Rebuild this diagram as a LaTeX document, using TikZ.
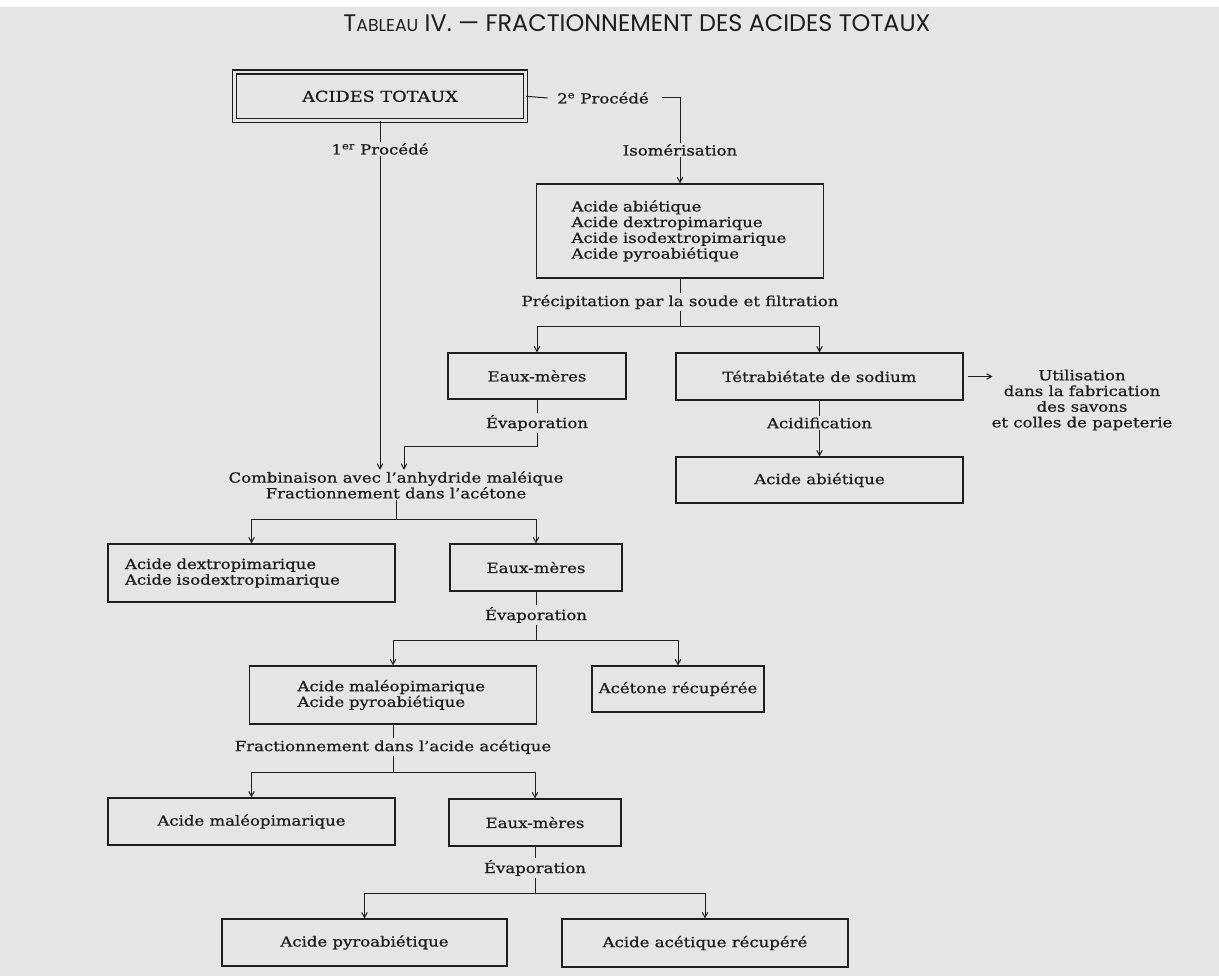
\documentclass[tikz,border=0pt]{standalone}
\usepackage{fontspec}
\setmainfont{DejaVu Serif}[FakeStretch=1.18, FakeBold=0.8]
\newfontfamily\titlefont{Poppins}
\usetikzlibrary{arrows.meta}
\definecolor{bg}{RGB}{229,229,229}
\definecolor{ink}{RGB}{30,30,30}
\newcommand\bodyfs{\fontsize{14}{15.7}\selectfont}
\begin{document}
\begin{tikzpicture}[x=1pt,y=-1pt,
  box/.style={draw=ink, line width=1.2pt, inner sep=0pt, text=ink, font=\bodyfs},
  lbl/.style={inner sep=1.5pt, text=ink, font=\bodyfs},
  conn/.style={draw=ink, line width=1pt},
  arr/.style={conn, -{Straight Barb[length=5pt,width=5.5pt]}}]
\fill[bg] (0,0) rectangle (1219,976);
\fill[white] (0,0) rectangle (1219,7);
\useasboundingbox (0,0) rectangle (1219,976);

% title
\node[font=\titlefont\fontsize{23.9}{24}\selectfont, text=ink, inner sep=0pt] (title) at (637,23)
  {T{\fontsize{17.3}{17.3}\selectfont ABLEAU} IV. — FRACTIONNEMENT DES ACIDES TOTAUX};

% boxes
\node[box, double=bg, double distance=2.8pt, minimum width=291, minimum height=48.5,
  font=\fontsize{15}{16}\selectfont] (tot) at (380,96.3) {ACIDES TOTAUX};
\node[box, minimum width=287, minimum height=94, align=left, text width=217, inner xsep=35] (boxA) at (680,231)
  {Acide abiétique\\Acide dextropimarique\\Acide isodextropimarique\\Acide pyroabiétique};
\node[box, minimum width=178, minimum height=46] (em1) at (537,376) {Eaux-mères};
\node[box, minimum width=287, minimum height=47] (tetra) at (819.5,376.5) {Tétrabiétate de sodium};
\node[box, minimum width=287, minimum height=46] (abiet) at (819.5,480) {Acide abiétique};
\node[box, minimum width=287, minimum height=58, align=left, text width=253, inner xsep=17] (dextro) at (251.5,573)
  {Acide dextropimarique\\Acide isodextropimarique};
\node[box, minimum width=172, minimum height=47] (em2) at (536,567.5) {Eaux-mères};
\node[box, minimum width=287, minimum height=58, align=left, text width=191, inner xsep=48] (maleo2) at (393,695)
  {Acide maléopimarique\\Acide pyroabiétique};
\node[box, minimum width=172, minimum height=46] (acet) at (678,689) {Acétone récupérée};
\node[box, minimum width=287, minimum height=47] (maleo) at (251.5,821.5) {Acide maléopimarique};
\node[box, minimum width=172, minimum height=47] (em3) at (535,822.5) {Eaux-mères};
\node[box, minimum width=285, minimum height=47] (pyro) at (364.5,942.5) {Acide pyroabiétique};
\node[box, minimum width=286, minimum height=48] (acac) at (705,943) {Acide acétique récupéré};

% labels
\node[lbl] (p1) at (380,149) {1\textsuperscript{er} Procédé};
\node[lbl] (p2) at (603,98) {2\textsuperscript{e} Procédé};
\node[lbl] (iso) at (680,150) {Isomérisation};
\node[lbl] (prec) at (680,302) {Précipitation par la soude et filtration};
\node[lbl] (ev1) at (537,423) {Évaporation};
\node[lbl] (acid) at (819.5,423) {Acidification};
\node[lbl, align=center, font=\fontsize{14}{15.7}\selectfont] (util) at (1082,400)
  {Utilisation\\dans la fabrication\\des savons\\et colles de papeterie};
\node[lbl, align=center] (comb) at (396,485)
  {Combinaison avec l'anhydride maléique\\Fractionnement dans l'acétone};
\node[lbl] (ev2) at (536,615) {Évaporation};
\node[lbl] (frac) at (393,747) {Fractionnement dans l'acide acétique};
\node[lbl] (ev3) at (535,868) {Évaporation};

% corner coordinates
\coordinate (k2) at (680,98);
\coordinate (s1) at (680,327);
\coordinate (c1) at (404,446);
\coordinate (s2) at (396,519);
\coordinate (s3) at (536,640);
\coordinate (s4) at (393,772);
\coordinate (s5) at (535,893);

% connectors
\draw[conn] (tot.east) -- ([xshift=-8pt]p2.west);
\draw[conn] ([xshift=12pt]p2.east) -- (k2) -- (iso.north);
\draw[conn] (tot.south) -- (p1.north);
\draw[arr] (p1.south) -- (p1.south |- comb.north);
\draw[arr] (iso.south) -- (boxA.north);
\draw[conn] (boxA.south) -- (prec.north);
\draw[conn] (prec.south) -- (s1);
\draw[arr] (s1) -| (em1.north);
\draw[arr] (s1) -| (tetra.north);
\draw[arr] (tetra.east) ++(4,0) -- ++(25,0);
\draw[conn] (em1.south) -- (ev1.north);
\draw[arr] (ev1.south) |- (c1) -- (c1 |- comb.north);
\draw[conn] (tetra.south) -- (acid.north);
\draw[arr] (acid.south) -- (abiet.north);
\draw[conn] (comb.south) -- (s2);
\draw[arr] (s2) -| (dextro.north);
\draw[arr] (s2) -| (em2.north);
\draw[conn] (em2.south) -- (ev2.north);
\draw[conn] (ev2.south) -- (s3);
\draw[arr] (s3) -| (maleo2.north);
\draw[arr] (s3) -| (acet.north);
\draw[conn] (maleo2.south) -- (frac.north);
\draw[conn] (frac.south) -- (s4);
\draw[arr] (s4) -| (maleo.north);
\draw[arr] (s4) -| (em3.north);
\draw[conn] (em3.south) -- (ev3.north);
\draw[conn] (ev3.south) -- (s5);
\draw[arr] (s5) -| (pyro.north);
\draw[arr] (s5) -| (acac.north);
\end{tikzpicture}
\end{document}
